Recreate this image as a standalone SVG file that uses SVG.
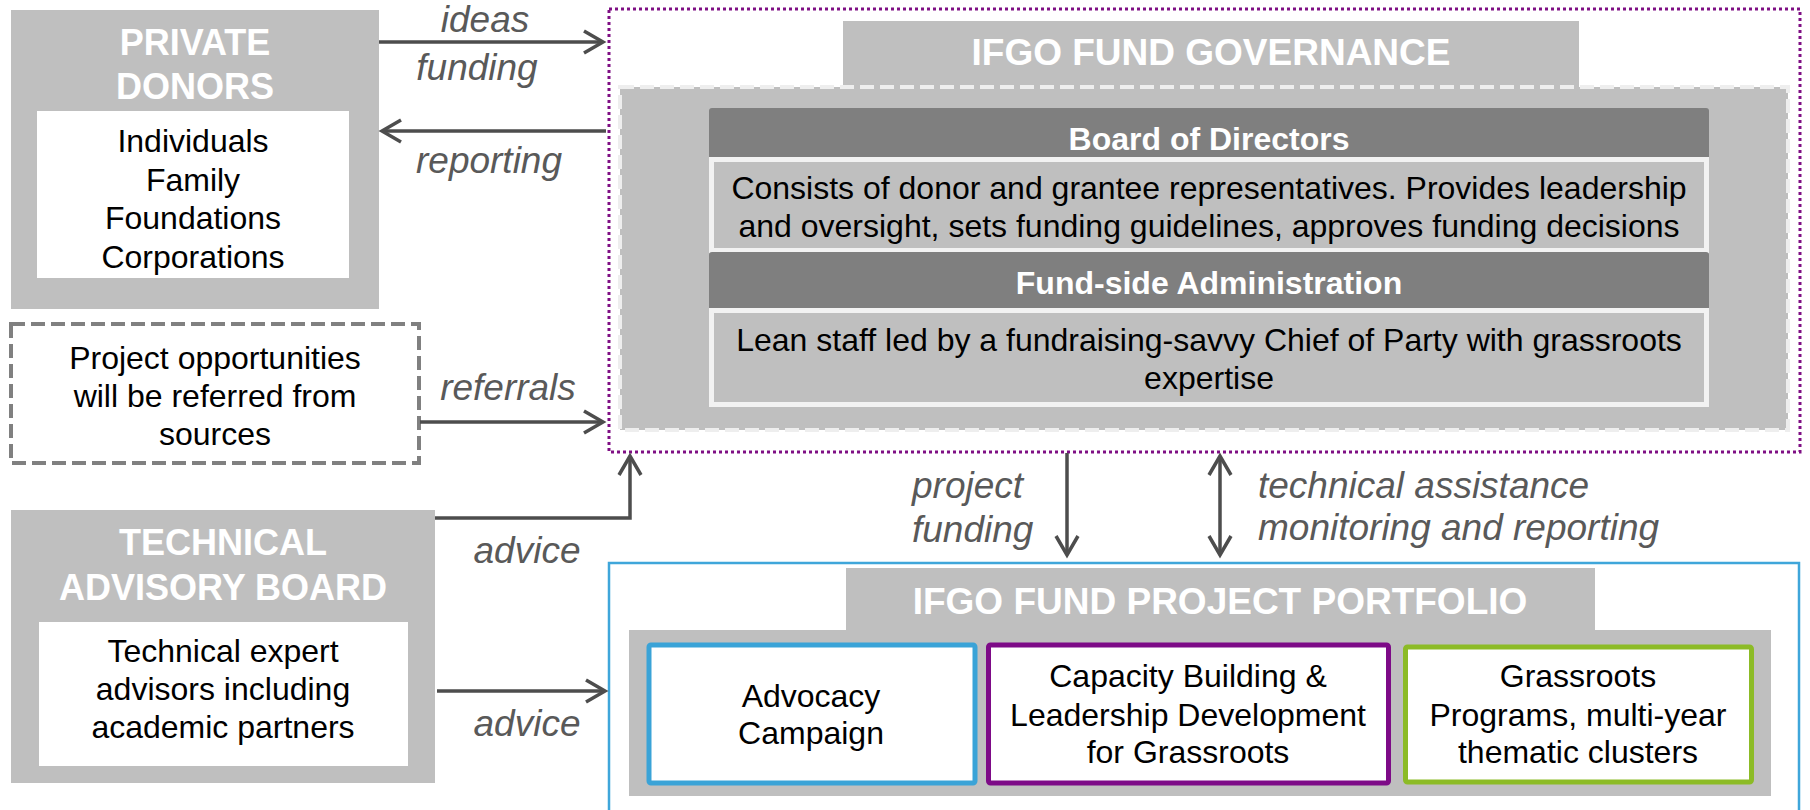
<svg xmlns="http://www.w3.org/2000/svg" width="1810" height="810" viewBox="0 0 1810 810">
<defs>
<style>
text{font-family:"Liberation Sans",Arial,sans-serif;}
.ttl{font-size:36px;font-weight:bold;fill:#ffffff;text-anchor:middle;}
.big{font-size:37px;font-weight:bold;fill:#ffffff;text-anchor:middle;}
.hdr{font-size:32px;font-weight:bold;fill:#ffffff;text-anchor:middle;}
.body{font-size:32px;fill:#000000;text-anchor:middle;}
.lbl{font-size:37px;font-style:italic;fill:#595959;}
.mid{text-anchor:middle;}
.gray{fill:#bfbfbf;}
.white{fill:#ffffff;}
.conn{stroke:#4d4d4d;stroke-width:3.5;fill:none;}
</style>
<marker id="arr" viewBox="-24 -14 28 28" refX="0" refY="0" markerWidth="28" markerHeight="28" markerUnits="userSpaceOnUse" orient="auto-start-reverse">
<path d="M-19,-11 L0,0 L-19,11" fill="none" stroke="#4d4d4d" stroke-width="3.5"/>
</marker>
</defs>
<rect width="1810" height="810" fill="#ffffff"/>

<g id="private-donors">
<rect class="gray" x="11" y="10" width="368" height="299"/>
<rect class="white" x="37" y="111" width="312" height="167"/>
<text class="ttl" x="195" y="55">PRIVATE</text>
<text class="ttl" x="195" y="99">DONORS</text>
<text class="body" x="193" y="152">Individuals</text>
<text class="body" x="193" y="191">Family</text>
<text class="body" x="193" y="229">Foundations</text>
<text class="body" x="193" y="268">Corporations</text>
</g>

<g id="project-opportunities">
<rect x="11" y="324" width="408" height="139" fill="#ffffff" stroke="#808080" stroke-width="4" stroke-dasharray="14 6"/>
<text class="body" x="215" y="369">Project opportunities</text>
<text class="body" x="215" y="407">will be referred from</text>
<text class="body" x="215" y="445">sources</text>
</g>

<g id="technical-advisory-board">
<rect class="gray" x="11" y="510" width="424" height="273"/>
<rect class="white" x="39" y="622" width="369" height="144"/>
<text class="ttl" x="223" y="555">TECHNICAL</text>
<text class="ttl" x="223" y="600">ADVISORY BOARD</text>
<text class="body" x="223" y="662">Technical expert</text>
<text class="body" x="223" y="700">advisors including</text>
<text class="body" x="223" y="738">academic partners</text>
</g>

<g id="fund-governance">
<rect x="609" y="9" width="1191" height="443" fill="#ffffff" stroke="#7f0f84" stroke-width="3" stroke-dasharray="3 3"/>
<rect class="gray" x="843" y="21" width="736" height="67"/>
<rect class="gray" x="620" y="87" width="1168" height="343" stroke="#eeeeee" stroke-width="4" stroke-dasharray="14 6"/>
<rect class="gray" x="843" y="21" width="736" height="64"/>
<text class="big" x="1211" y="65">IFGO FUND GOVERNANCE</text>
<g id="board-of-directors">
<rect x="709" y="108" width="1000" height="52" rx="3" fill="#7f7f7f"/>
<rect x="711.5" y="159.5" width="995" height="91" fill="#bfbfbf" stroke="#f2f2f2" stroke-width="5"/>
<text class="hdr" x="1209" y="150">Board of Directors</text>
<text class="body" x="1209" y="199">Consists of donor and grantee representatives. Provides leadership</text>
<text class="body" x="1209" y="237">and oversight, sets funding guidelines, approves funding decisions</text>
</g>
<g id="fund-side-administration">
<rect x="709" y="252" width="1000" height="59" rx="3" fill="#7f7f7f"/>
<rect x="711.5" y="310.5" width="995" height="94" fill="#bfbfbf" stroke="#f2f2f2" stroke-width="5"/>
<text class="hdr" x="1209" y="294">Fund-side Administration</text>
<text class="body" x="1209" y="351">Lean staff led by a fundraising-savvy Chief of Party with grassroots</text>
<text class="body" x="1209" y="389">expertise</text>
</g>
</g>

<g id="project-portfolio">
<rect x="609" y="563" width="1190" height="270" fill="#ffffff" stroke="#3fa6da" stroke-width="2.5"/>
<rect class="gray" x="846" y="568" width="749" height="64"/>
<rect class="gray" x="629" y="630" width="1142" height="166"/>
<text class="big" x="1220" y="614">IFGO FUND PROJECT PORTFOLIO</text>
<g id="advocacy-campaign">
<rect x="649" y="645" width="326" height="138" rx="2" fill="#ffffff" stroke="#3aa3d7" stroke-width="5"/>
<text class="body" x="811" y="707">Advocacy</text>
<text class="body" x="811" y="744">Campaign</text>
</g>
<g id="capacity-building">
<rect x="988.5" y="645" width="400" height="138" rx="2" fill="#ffffff" stroke="#7d0a87" stroke-width="5"/>
<text class="body" x="1188" y="687">Capacity Building &amp;</text>
<text class="body" x="1188" y="726">Leadership Development</text>
<text class="body" x="1188" y="763">for Grassroots</text>
</g>
<g id="grassroots-programs">
<rect x="1405.5" y="647" width="346" height="135" rx="2" fill="#ffffff" stroke="#8cbb26" stroke-width="5"/>
<text class="body" x="1578" y="687">Grassroots</text>
<text class="body" x="1578" y="726">Programs, multi-year</text>
<text class="body" x="1578" y="763">thematic clusters</text>
</g>
</g>

<g id="connectors">
<line class="conn" x1="379" y1="42" x2="603" y2="42" marker-end="url(#arr)"/>
<line class="conn" x1="606" y1="131" x2="382" y2="131" marker-end="url(#arr)"/>
<line class="conn" x1="420" y1="422" x2="603" y2="422" marker-end="url(#arr)"/>
<polyline class="conn" points="435,518 630,518 630,456" marker-end="url(#arr)"/>
<line class="conn" x1="437" y1="691" x2="605" y2="691" marker-end="url(#arr)"/>
<line class="conn" x1="1067" y1="453" x2="1067" y2="555" marker-end="url(#arr)"/>
<line class="conn" x1="1220" y1="456" x2="1220" y2="555" marker-start="url(#arr)" marker-end="url(#arr)"/>
<text class="lbl mid" x="485" y="32">ideas</text>
<text class="lbl mid" x="477" y="80">funding</text>
<text class="lbl mid" x="489" y="173">reporting</text>
<text class="lbl mid" x="508" y="400">referrals</text>
<text class="lbl mid" x="527" y="563">advice</text>
<text class="lbl mid" x="527" y="736">advice</text>
<text class="lbl" x="912" y="498">project</text>
<text class="lbl" x="912" y="542">funding</text>
<text class="lbl" x="1258" y="498">technical assistance</text>
<text class="lbl" x="1258" y="540">monitoring and reporting</text>
</g>
</svg>
